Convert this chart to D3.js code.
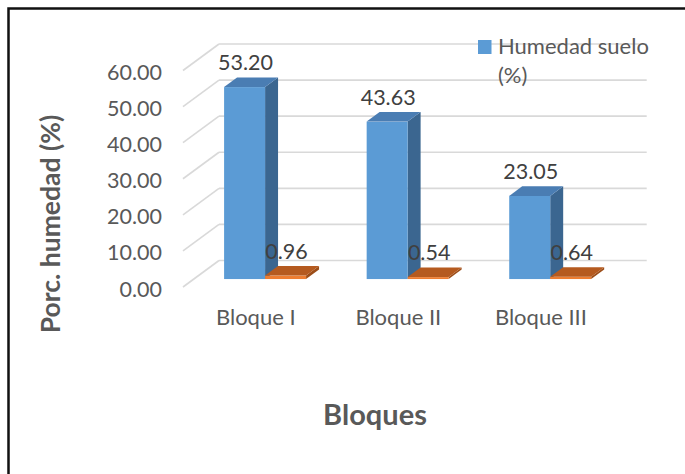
<!DOCTYPE html>
<html>
<head>
<meta charset="utf-8">
<script src="https://cdn.jsdelivr.net/npm/d3@7"></script>
<style>
  html, body { margin: 0; padding: 0; background: #fff; }
  svg { display: block; }
  text { font-family: Lato, "Open Sans", sans-serif; }
</style>
</head>
<body>
<svg id="chart" width="685" height="474"></svg>
<script>
// Soil moisture per block, shown as a 3D clustered column chart
const categories = ["Bloque I", "Bloque II", "Bloque III"];
const humedadSuelo = [53.20, 43.63, 23.05];
const segundaSerie = [0.96, 0.54, 0.64];
const yTicks = [0, 10, 20, 30, 40, 50, 60];
const legendLines = ["Humedad suelo", "(%)"];

const svg = d3.select("#chart");
const W = 685, H = 474;

svg.append("rect").attr("width", W).attr("height", H).attr("fill", "#fff");

// 3D projection: full depth of the floor and the slice the columns occupy
const depthX = 36, depthY = -26.5;
const fFront = 0.3, fBack = 0.66;

const y = d3.scaleLinear().domain([0, 60]).range([287, 70.5]);
const x0 = d3.scaleBand().domain(categories).range([183, 610.7]);
const x1 = d3.scaleBand().domain(["s1", "s2"]).range([0, x0.bandwidth()])
  .paddingInner(0).paddingOuter(0.739);

// gridlines: side wall diagonals + back wall horizontals
const grid = svg.append("g");
yTicks.forEach(t => {
  grid.append("line")
    .attr("x1", x0.range()[0]).attr("y1", y(t))
    .attr("x2", x0.range()[0] + depthX).attr("y2", y(t) + depthY)
    .attr("stroke", "#d9d9d9").attr("stroke-width", 1.6);
  grid.append("line")
    .attr("x1", x0.range()[0] + depthX).attr("y1", y(t) + depthY)
    .attr("x2", x0.range()[1] + depthX).attr("y2", y(t) + depthY)
    .attr("stroke", "#d9d9d9").attr("stroke-width", 1.6);
});

// y tick labels
svg.append("g").selectAll("text").data(yTicks).join("text")
  .attr("x", 162).attr("y", d => y(d) + 9.5)
  .attr("text-anchor", "end")
  .attr("font-size", 21.5).attr("fill", "#595959")
  .text(d => d3.format(".2f")(d));

// category labels
svg.append("g").selectAll("text").data(categories).join("text")
  .attr("x", d => x0(d) + x0.bandwidth() / 2 + 1.5)
  .attr("y", 325)
  .attr("text-anchor", "middle")
  .attr("font-size", 22).attr("fill", "#595959")
  .text(d => d);

const palette = {
  s1: { front: "#5b9bd5", top: "#4a7db3", side: "#3b6690" },
  s2: { front: "#ed7d31", top: "#b55a1f", side: "#9c4d18" }
};

const bars = svg.append("g");
const labels = [];

function drawBar(cat, key, v) {
  const w = x1.bandwidth();
  const sx = fFront * depthX, sy = fFront * depthY;
  const bx = (fBack - fFront) * depthX, by = (fBack - fFront) * depthY;
  const xl = x0(cat) + x1(key) + sx, xr = xl + w;
  const yb = y(0) + sy, yt = y(v) + sy;
  const c = palette[key];
  bars.append("polygon")
    .attr("points", [[xr, yt], [xr + bx, yt + by], [xr + bx, yb + by], [xr, yb]].join(" "))
    .attr("fill", c.side);
  bars.append("rect")
    .attr("x", xl).attr("y", yt).attr("width", w).attr("height", yb - yt)
    .attr("fill", c.front);
  bars.append("polygon")
    .attr("points", [[xl, yt], [xr, yt], [xr + bx, yt + by], [xl + bx, yt + by]].join(" "))
    .attr("fill", c.top);
  labels.push({ x: xl + w / 2 + 1, y: yt + by - 7.5, v });
}

categories.forEach((cat, i) => {
  drawBar(cat, "s1", humedadSuelo[i]);
  drawBar(cat, "s2", segundaSerie[i]);
});

// value labels
svg.append("g").selectAll("text").data(labels).join("text")
  .attr("x", d => d.x).attr("y", d => d.y)
  .attr("text-anchor", "middle")
  .attr("font-size", 21.5).attr("fill", "#404040")
  .text(d => d3.format(".2f")(d.v));

// legend
const lg = svg.append("g");
lg.append("rect").attr("x", 478).attr("y", 40).attr("width", 13.5).attr("height", 14)
  .attr("fill", palette.s1.front);
lg.selectAll("text").data(legendLines).join("text")
  .attr("x", 498).attr("y", (d, i) => 54 + i * 29)
  .attr("font-size", 22).attr("fill", "#595959")
  .text(d => d);

// axis titles
svg.append("text")
  .attr("transform", "translate(60,224) rotate(-90)")
  .attr("text-anchor", "middle")
  .attr("font-size", 26.5).attr("font-weight", "bold").attr("fill", "#595959")
  .text("Porc. humedad (%)");

svg.append("text")
  .attr("x", 375).attr("y", 425)
  .attr("text-anchor", "middle")
  .attr("font-size", 29).attr("font-weight", "bold").attr("fill", "#595959")
  .text("Bloques");

// frame (top and left edges)
svg.append("path")
  .attr("d", "M8.5,474 L8.5,8.5 L685,8.5")
  .attr("fill", "none").attr("stroke", "#111").attr("stroke-width", 2.5);
</script>
</body>
</html>
